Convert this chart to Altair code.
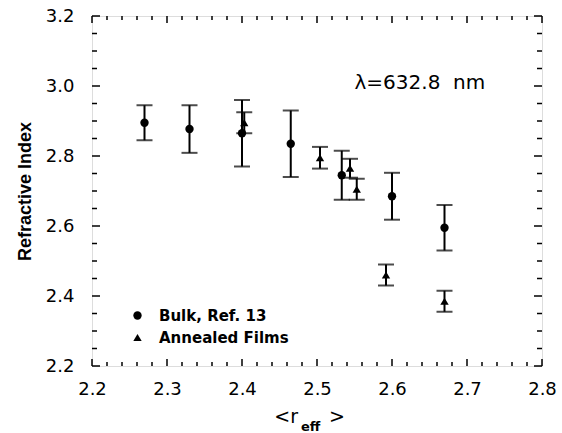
import altair as alt
import pandas as pd

# ---- data ----
series_names = ["Bulk, Ref. 13", "Annealed Films"]

bulk_x = [2.270, 2.330, 2.400, 2.465, 2.533, 2.600, 2.670]
bulk_y = [2.895, 2.877, 2.865, 2.835, 2.745, 2.685, 2.595]
bulk_err = [0.050, 0.068, 0.095, 0.095, 0.070, 0.067, 0.065]

film_x = [2.403, 2.504, 2.544, 2.553, 2.592, 2.670]
film_y = [2.895, 2.795, 2.765, 2.705, 2.460, 2.385]
film_err = [0.030, 0.031, 0.027, 0.030, 0.030, 0.030]

x_major = [2.2, 2.3, 2.4, 2.5, 2.6, 2.7, 2.8]
x_minor = [round(2.2 + 0.02 * i, 2) for i in range(31) if i % 5 != 0]
y_major = [2.2, 2.4, 2.6, 2.8, 3.0, 3.2]
y_minor = [round(2.2 + 0.05 * i, 2) for i in range(21) if i % 4 != 0]

annot_text = ["λ=632.8\u00a0\u00a0nm"]
annot_x = [2.55]
annot_y = [3.01]

W, H = 450, 350
FONT = "DejaVu Sans"

rows = []
for x, y, e in zip(bulk_x, bulk_y, bulk_err):
    rows.append({"x": x, "y": y, "lo": y - e, "hi": y + e, "series": series_names[0]})
for x, y, e in zip(film_x, film_y, film_err):
    rows.append({"x": x, "y": y, "lo": y - e, "hi": y + e, "series": series_names[1]})
df = pd.DataFrame(rows)

xs = alt.Scale(domain=[2.2, 2.8], nice=False, zero=False)
ys = alt.Scale(domain=[2.2, 3.2], nice=False, zero=False)

x_axis = alt.Axis(values=x_major, format=".1f", ticks=False, domain=False, grid=False,
                  labelFontSize=18, labelFont=FONT, labelColor="black", labelPadding=14,
                  labelFlush=False, title=None)
y_axis = alt.Axis(values=y_major, format=".1f", ticks=False, domain=False, grid=False,
                  labelFontSize=18, labelFont=FONT, labelColor="black", labelPadding=18,
                  labelFlush=False, title="Refractive Index", titleFontSize=18,
                  titleFont="Liberation Sans", titleFontWeight="bold", titleColor="black",
                  titleAngle=270, titleX=-67, titleY=H / 2, titleAlign="center",
                  titleBaseline="middle")

base = alt.Chart(df)

bars = base.mark_rule(color="black", strokeWidth=2).encode(
    x=alt.X("x:Q", scale=xs, axis=x_axis),
    y=alt.Y("lo:Q", scale=ys, axis=y_axis),
    y2="hi:Q",
)
cap_lo = base.mark_tick(color="black", orient="horizontal", size=16, thickness=2).encode(
    x=alt.X("x:Q", scale=xs), y=alt.Y("lo:Q", scale=ys))
cap_hi = base.mark_tick(color="black", orient="horizontal", size=16, thickness=2).encode(
    x=alt.X("x:Q", scale=xs), y=alt.Y("hi:Q", scale=ys))

points = base.mark_point(filled=True, opacity=1, size=70, color="black").encode(
    x=alt.X("x:Q", scale=xs),
    y=alt.Y("y:Q", scale=ys),
    shape=alt.Shape(
        "series:N",
        scale=alt.Scale(domain=series_names, range=["circle", "triangle-up"]),
        legend=alt.Legend(
            title=None, orient="none", legendX=38, legendY=292, padding=0,
            labelFont=FONT, labelFontSize=15, labelFontWeight="bold", labelColor="black",
            labelOffset=14, rowPadding=6, symbolSize=70, symbolFillColor="black",
            symbolStrokeColor="black", symbolType="circle",
        ),
    ),
)

# inward ticks on all four sides
dxM = pd.DataFrame({"v": x_major})
dxm = pd.DataFrame({"v": x_minor})
dyM = pd.DataFrame({"v": y_major})
dym = pd.DataFrame({"v": y_minor})

def xticks(d, length):
    b = alt.Chart(d).mark_rule(color="black", strokeWidth=1.5)
    return (b.encode(x=alt.X("v:Q", scale=xs), y=alt.value(H), y2=alt.value(H - length))
            + b.encode(x=alt.X("v:Q", scale=xs), y=alt.value(0), y2=alt.value(length)))

def yticks(d, length):
    b = alt.Chart(d).mark_rule(color="black", strokeWidth=1.5)
    return (b.encode(y=alt.Y("v:Q", scale=ys), x=alt.value(0), x2=alt.value(length))
            + b.encode(y=alt.Y("v:Q", scale=ys), x=alt.value(W - length), x2=alt.value(W)))

ticks = xticks(dxM, 7) + xticks(dxm, 4) + yticks(dyM, 8) + yticks(dym, 5)

annot = alt.Chart(pd.DataFrame({"t": annot_text, "x": annot_x, "y": annot_y})).mark_text(
    align="left", baseline="middle", font=FONT, fontSize=20, color="black"
).encode(x=alt.X("x:Q", scale=xs), y=alt.Y("y:Q", scale=ys), text="t:N")

# x-axis title  <r_eff>
def title_part(txt, px, py, size, align, weight="normal"):
    return alt.Chart(pd.DataFrame({"t": [txt]})).mark_text(
        align=align, baseline="alphabetic", font=FONT, fontSize=size, color="black",
        fontWeight=weight
    ).encode(text="t:N", x=alt.value(px), y=alt.value(py))

xtitle = (title_part("<r", 206, 407, 19, "right")
          + title_part("eff", 209, 415, 13, "left", "bold")
          + title_part(">", 237, 407, 19, "left"))

chart = alt.layer(ticks, bars, cap_lo, cap_hi, points, annot, xtitle).properties(
    width=W, height=H,
    padding={"left": 92, "top": 16, "right": 20, "bottom": 67},
    autosize=alt.AutoSizeParams(type="none"),
).configure_view(stroke="black", strokeWidth=2).configure(background="white")

chart.save("out.html", embed_options={"renderer": "svg", "actions": False})
